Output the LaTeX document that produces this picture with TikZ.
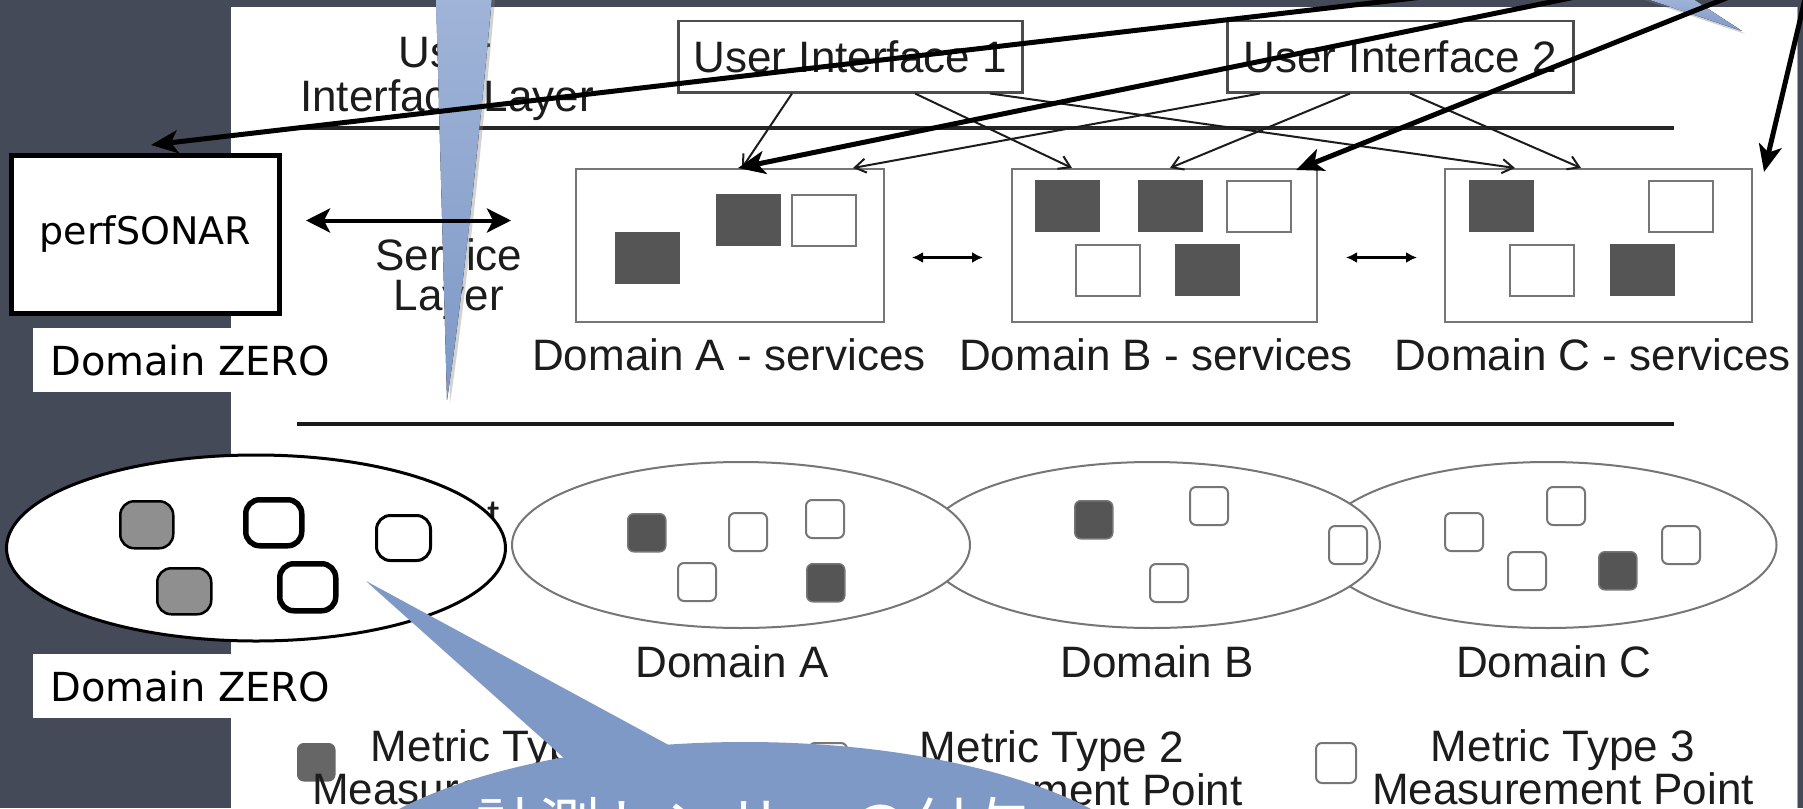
\documentclass[tikz,border=0pt]{standalone}
\usepackage{fontspec}
\setmainfont{Liberation Sans}
\newfontfamily\ovfont{DejaVu Sans}
\newfontfamily\jpfont{Noto Sans CJK JP}
\usetikzlibrary{arrows.meta,shadows,calc,shapes.geometric}
\definecolor{bgdark}{RGB}{69,74,88}
\definecolor{cblue}{RGB}{126,153,198}
\definecolor{cbluelight}{RGB}{160,180,216}
\definecolor{figline}{RGB}{118,118,118}
\definecolor{darksq}{RGB}{85,85,85}
\definecolor{figtxt}{RGB}{28,28,28}
\definecolor{zgray}{RGB}{143,143,143}
\begin{document}
\begin{tikzpicture}[x=1pt,y=-1pt,
  ftext/.style={font=\fontsize{44}{50}\selectfont, text=figtxt, inner sep=0pt},
  uibox/.style={draw=black!70, line width=2.5pt, fill=white, minimum height=71pt, inner sep=0pt, font=\fontsize{44}{50}\selectfont, text=figtxt, anchor=north west},
  svcbox/.style={draw=figline, line width=2pt, minimum height=153pt, inner sep=0pt, anchor=north west},
  sqd/.style={fill=darksq, draw=darksq, line width=1pt, minimum width=64pt, minimum height=51pt, inner sep=0pt, anchor=north west},
  sqw/.style={fill=white, draw=figline, line width=2pt, minimum width=64pt, minimum height=51pt, inner sep=0pt, anchor=north west},
  dell/.style={ellipse, draw=figline, line width=2pt, fill=white, minimum height=166pt, inner sep=0pt},
  msd/.style={fill=darksq, draw=figline, line width=1.5pt, rounded corners=6pt, minimum size=38pt, inner sep=0pt, anchor=north west},
  msw/.style={fill=white, draw=figline, line width=2pt, rounded corners=6pt, minimum size=38pt, inner sep=0pt, anchor=north west},
  thinarr/.style={draw=figtxt, line width=2pt, -{Straight Barb[length=11pt,width=14pt,line width=2pt]}},
  darr/.style={draw=black, line width=3pt, {Latex[length=11pt,width=11pt]}-{Latex[length=11pt,width=11pt]}},
  bigdarr/.style={draw=black, line width=4pt, {Stealth[length=24pt,width=24pt,inset=6pt]}-{Stealth[length=24pt,width=24pt,inset=6pt]}},
  bigarr/.style={draw=black, line width=5pt, -{Stealth[length=27pt,width=23pt,inset=7pt]}},
  zsq/.style={rounded corners=14pt, inner sep=0pt, anchor=north west, draw=black},
  zlabel/.style={fill=white, anchor=north west, minimum height=64pt, inner xsep=17pt, inner ysep=0pt, font=\ovfont\fontsize{40}{40}\selectfont, text=black},
  wedge/.style={top color=cbluelight, bottom color=cblue, drop shadow={shadow xshift=3pt, shadow yshift=-3pt, opacity=.35}},
]
\useasboundingbox (0,0) rectangle (1803,808);
% background and white panel
\fill[bgdark] (0,0) rectangle (1803,808);
\fill[white] (231,7) rectangle (1797,808);
\draw[gray!70, line width=1.5pt] (1797.5,7) -- (1797.5,808);

% ---------- original figure ----------
% layer labels
\node[ftext, anchor=base] (luser) at (445,67) {User};
\node[ftext, anchor=base] (lint) at (447,111) {Interface Layer};
\node[ftext, anchor=base] (lserv) at (449,270) {Service};
\node[ftext, anchor=base] (lslay) at (449,310) {Layer};
\node[ftext, anchor=base east] (lmeas) at (500,530) {Measurement};
\node[ftext, anchor=base] (lmlay) at (370,572) {Layer};
% separators
\draw[black!85, line width=4pt] (297,128) -- (1674,128);
\draw[black!90, line width=4.5pt] (297,424) -- (1674,424);
% user interfaces
\node[uibox, minimum width=344pt] (ui1) at (677,20) {User Interface 1};
\node[uibox, minimum width=346pt] (ui2) at (1226,20) {User Interface 2};
% service boxes
\node[svcbox, minimum width=308pt] (svcA) at (575,168) {};
\node[svcbox, minimum width=305pt] (svcB) at (1011,168) {};
\node[svcbox, minimum width=307pt] (svcC) at (1444,168) {};
\node[sqd] (a1) at (615,232) {};
\node[sqd] (a2) at (716,194) {};
\node[sqw] (a3) at (791,194) {};
\node[sqd] (b1) at (1035,180) {};
\node[sqd] (b2) at (1138,180) {};
\node[sqw] (b3) at (1226,180) {};
\node[sqw] (b4) at (1075,244) {};
\node[sqd] (b5) at (1175,244) {};
\node[sqd] (c1) at (1469,180) {};
\node[sqw] (c2) at (1648,180) {};
\node[sqw] (c3) at (1509,244) {};
\node[sqd] (c4) at (1610,244) {};
\node[ftext, anchor=base] (svlA) at (729,370) {Domain A - services};
\node[ftext, anchor=base] (svlB) at (1156,370) {Domain B - services};
\node[ftext, anchor=base] (svlC) at (1593,370) {Domain C - services};
% UI -> service arrows
\draw[thinarr] ([xshift=115pt]ui1.south west) -- ([xshift=167pt]svcA.north west);
\draw[thinarr] ([xshift=238pt]ui1.south west) -- ([xshift=61pt]svcB.north west);
\draw[thinarr] ([xshift=313pt]ui1.south west) -- ([xshift=71pt]svcC.north west);
\draw[thinarr] ([xshift=34pt]ui2.south west) -- ([xshift=278pt]svcA.north west);
\draw[thinarr] ([xshift=124pt]ui2.south west) -- ([xshift=159pt]svcB.north west);
\draw[thinarr] ([xshift=184pt]ui2.south west) -- ([xshift=137pt]svcC.north west);
% service double arrows
\draw[darr] ($(svcA.east)+(27,12)$) -- ($(svcB.west)+(-28,12)$);
\draw[darr] ($(svcB.east)+(28,12)$) -- ($(svcC.west)+(-27,12)$);
% domain ellipses
\node[dell, minimum width=457pt] (ellC) at (1548,545) {};
\node[dell, minimum width=456pt] (ellB) at (1152,545) {};
\node[dell, minimum width=458pt] (ellA) at (741,545) {};
\node[msd] (ma1) at (627,513) {};
\node[msw] (ma2) at (728,512) {};
\node[msw] (ma3) at (805,499) {};
\node[msw] (ma4) at (677,562) {};
\node[msd] (ma5) at (806,563) {};
\node[msd] (mb1) at (1074,500) {};
\node[msw] (mb2) at (1189,486) {};
\node[msw] (mb3) at (1149,563) {};
\node[msw] (mb4) at (1328,525) {};
\node[msw] (mc1) at (1444,512) {};
\node[msw] (mc2) at (1546,486) {};
\node[msw] (mc3) at (1507,551) {};
\node[msd] (mc4) at (1598,551) {};
\node[msw] (mc5) at (1661,525) {};
\node[ftext, anchor=base] (dlA) at (732,677) {Domain A};
\node[ftext, anchor=base] (dlB) at (1157,677) {Domain B};
\node[ftext, anchor=base] (dlC) at (1554,677) {Domain C};
% legend
\node[msd, minimum size=37pt, fill=darksq!90!white, draw=darksq!90!white] (lg1) at (297,743) {};
\node[msw] (lg2) at (808,742) {};
\node[msw, minimum size=40pt] (lg3) at (1315,742) {};
\node[ftext, anchor=base] (lt1a) at (503,761) {Metric Type 1};
\node[ftext, anchor=base] (lt1b) at (503,804) {Measurement Point};
\node[ftext, anchor=base] (lt2a) at (1052,762) {Metric Type 2};
\node[ftext, anchor=base] (lt2b) at (1052,805) {Measurement Point};
\node[ftext, anchor=base] (lt3a) at (1563,761) {Metric Type 3};
\node[ftext, anchor=base] (lt3b) at (1563,804) {Measurement Point};

% ---------- overlays ----------
% Domain ZERO ellipse
\node[ellipse, draw=black, line width=3pt, fill=white, minimum width=499pt, minimum height=186pt, inner sep=0pt] (zell) at (256,548) {};
\node[zsq, fill=zgray, line width=2.5pt, minimum width=53pt, minimum height=47pt] (z1) at (119,500) {};
\node[zsq, fill=zgray, line width=2.5pt, minimum width=54pt, minimum height=46pt] (z2) at (156,567) {};
\node[zsq, fill=white, line width=5.5pt, minimum width=56pt, minimum height=46pt] (z3) at (243,497) {};
\node[zsq, fill=white, line width=5.5pt, minimum width=56pt, minimum height=47pt] (z4) at (277,561) {};
\node[zsq, fill=white, line width=3pt, minimum width=54pt, minimum height=45pt] (z5) at (375,514) {};
% perfSONAR box and labels
\node[draw=black, line width=5pt, fill=white, anchor=north west, minimum width=268pt, minimum height=158pt, inner sep=0pt, font=\ovfont\fontsize{38}{38}\selectfont] (ps) at (9,153) {perfSONAR};
\node[zlabel] (zl1) at (33,328) {Domain ZERO};
\node[zlabel] (zl2) at (33,654) {Domain ZERO};

% blue callouts
\fill[wedge] (436,-3) -- (492,-3) .. controls (478,150) and (462,300) .. (447,400) -- cycle;
\fill[wedge] (1641,-3) -- (1690,-3) -- (1742,31) -- cycle;
\fill[cblue, drop shadow={shadow xshift=3pt, shadow yshift=-3pt, opacity=.4}] (366,581) -- (600,790) -- (700,762) -- cycle;
\fill[cblue] (745,907) ellipse [x radius=430, y radius=165];
\node[font=\jpfont\fontsize{62}{62}\selectfont, text=white, anchor=base] (jp) at (755,849) {計測センサーの付与};

% connectors of the overlay
\draw[bigdarr] ($(ps.east)+(24,-14)$) -- ($(ps.east)+(229,-14)$);
\coordinate (s0) at (1440,-5);
\coordinate (s1) at (1585,-5);
\coordinate (s2) at (1734,-5);
\coordinate (s3) at (1806,-5);
\draw[bigarr] (s0) -- ($(ps.north west)+(142,-8)$);
\draw[bigarr] (s1) -- ([xshift=163pt]svcA.north west);
\draw[bigarr] (s2) -- ($(svcB.north east)+(-22,2)$);
\draw[bigarr] (s3) -- ($(svcC.north east)+(11,4)$);
\end{tikzpicture}
\end{document}
